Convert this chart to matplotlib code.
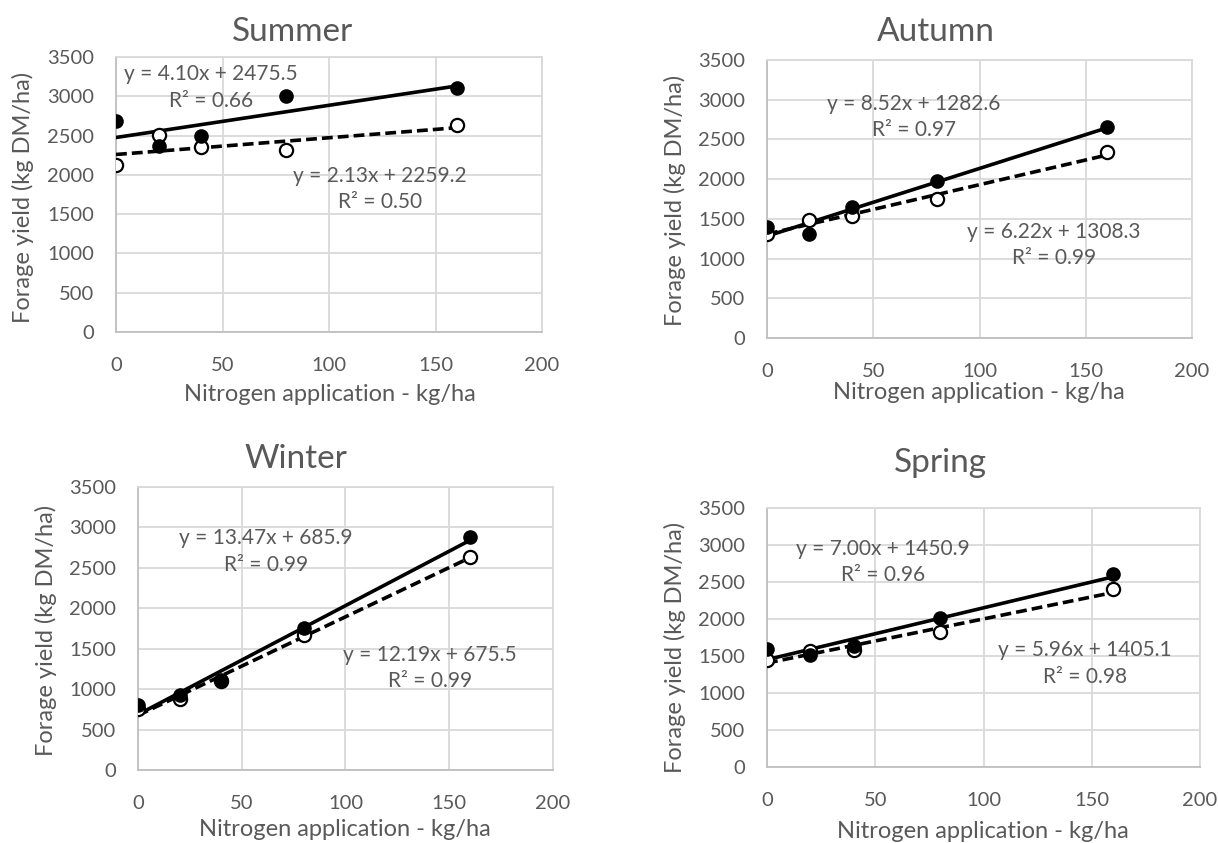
import matplotlib
matplotlib.use("Agg")
import matplotlib.pyplot as plt
import numpy as np

plt.rcParams['font.family'] = ['Lato', 'DejaVu Sans']

W, H = 1218, 843
GREY_TXT = '#595959'
GRID = '#d9d9d9'

# data
nitrogen = [0, 20, 40, 80, 160]
seasons = ['Summer', 'Autumn', 'Winter', 'Spring']

yield_filled = {
    'Summer': [2680, 2370, 2500, 3000, 3100],
    'Autumn': [1400, 1310, 1650, 1980, 2660],
    'Winter': [810, 930, 1110, 1760, 2880],
    'Spring': [1600, 1520, 1630, 2020, 2610],
}
yield_open = {
    'Summer': [2130, 2510, 2350, 2320, 2630],
    'Autumn': [1310, 1480, 1540, 1750, 2340],
    'Winter': [750, 880, 1100, 1670, 2640],
    'Spring': [1440, 1570, 1580, 1830, 2400],
}
# trend line coefficients (slope, intercept, r2) as printed on the chart
fit_filled = {
    'Summer': (4.10, 2475.5, 0.66),
    'Autumn': (8.52, 1282.6, 0.97),
    'Winter': (13.47, 685.9, 0.99),
    'Spring': (7.00, 1450.9, 0.96),
}
fit_open = {
    'Summer': (2.13, 2259.2, 0.50),
    'Autumn': (6.22, 1308.3, 0.99),
    'Winter': (12.19, 675.5, 0.99),
    'Spring': (5.96, 1405.1, 0.98),
}

# layout in pixels: plot box (left, right, top, bottom)
boxes = {
    'Summer': (116, 542, 57, 332),
    'Autumn': (767, 1192, 60, 338),
    'Winter': (138, 553, 487, 770),
    'Spring': (767, 1200, 508, 767),
}
# title, ylabel, xlabel centres in pixels
title_pos = {'Summer': (293, 32), 'Autumn': (936, 32), 'Winter': (296, 459), 'Spring': (940, 463)}
ylab_pos = {'Summer': (23, 197), 'Autumn': (675, 200), 'Winter': (46, 630), 'Spring': (675, 647)}
xlab_pos = {'Summer': (330, 395), 'Autumn': (979, 393), 'Winter': (345, 830), 'Spring': (983, 832)}
# equation label centres in data coordinates
eq1_pos = {'Summer': (44.6, 3112), 'Autumn': (69, 2782), 'Winter': (61.6, 2703), 'Spring': (53.7, 2770)}
eq2_pos = {'Summer': (124, 1820), 'Autumn': (135, 1171), 'Winter': (140.8, 1262), 'Spring': (146.8, 1398)}


def fx(px):
    return px / W


def fy(py):
    return 1 - py / H


fig = plt.figure(figsize=(W / 100, H / 100), dpi=100)

for s in seasons:
    l, r, t, b = boxes[s]
    ax = fig.add_axes([fx(l), fy(b), (r - l) / W, (b - t) / H])
    ax.set_xlim(0, 200)
    ax.set_ylim(0, 3500)
    ax.set_xticks(np.arange(0, 201, 50))
    ax.set_yticks(np.arange(0, 3501, 500))
    ax.grid(True, color=GRID, lw=1.3)
    ax.set_axisbelow(True)
    for sp in ax.spines.values():
        sp.set_color(GRID)
        sp.set_linewidth(1.3)
    ax.spines['bottom'].set_color('#bfbfbf')
    ax.spines['left'].set_color('#bfbfbf')
    ax.tick_params(length=0, labelsize=14.5, colors=GREY_TXT)
    ax.tick_params(axis='x', pad=18)
    ax.tick_params(axis='y', pad=16)

    xs = np.array([min(nitrogen), max(nitrogen)])
    m1, c1, r1 = fit_filled[s]
    m2, c2, r2 = fit_open[s]
    ax.plot(xs, m1 * xs + c1, color='black', lw=2.6, zorder=3)
    ax.plot(xs, m2 * xs + c2, color='black', lw=2.6, ls=(0, (3, 1.4)), zorder=3)
    ax.plot(nitrogen, yield_open[s], 'o', ms=9.5, mfc='white', mec='black', mew=1.6, zorder=4)
    ax.plot(nitrogen, yield_filled[s], 'o', ms=9.5, mfc='black', mec='black', zorder=5)

    ex, ey = eq1_pos[s]
    ax.text(ex, ey, f'y = {m1:.2f}x + {c1:.1f}\nR² = {r1:.2f}', ha='center', va='center',
            fontsize=15, color=GREY_TXT, linespacing=1.4, zorder=6)
    ex, ey = eq2_pos[s]
    ax.text(ex, ey, f'y = {m2:.2f}x + {c2:.1f}\nR² = {r2:.2f}', ha='center', va='center',
            fontsize=15, color=GREY_TXT, linespacing=1.4, zorder=6)

    tx, ty = title_pos[s]
    fig.text(fx(tx), fy(ty), s, ha='center', va='center', fontsize=24, color=GREY_TXT)
    tx, ty = ylab_pos[s]
    fig.text(fx(tx), fy(ty), 'Forage yield (kg DM/ha)', ha='center', va='center',
             rotation=90, fontsize=17, color=GREY_TXT)
    tx, ty = xlab_pos[s]
    fig.text(fx(tx), fy(ty), 'Nitrogen application - kg/ha', ha='center', va='center',
             fontsize=17, color=GREY_TXT)

fig.savefig('out.png', dpi=100, facecolor='white')
